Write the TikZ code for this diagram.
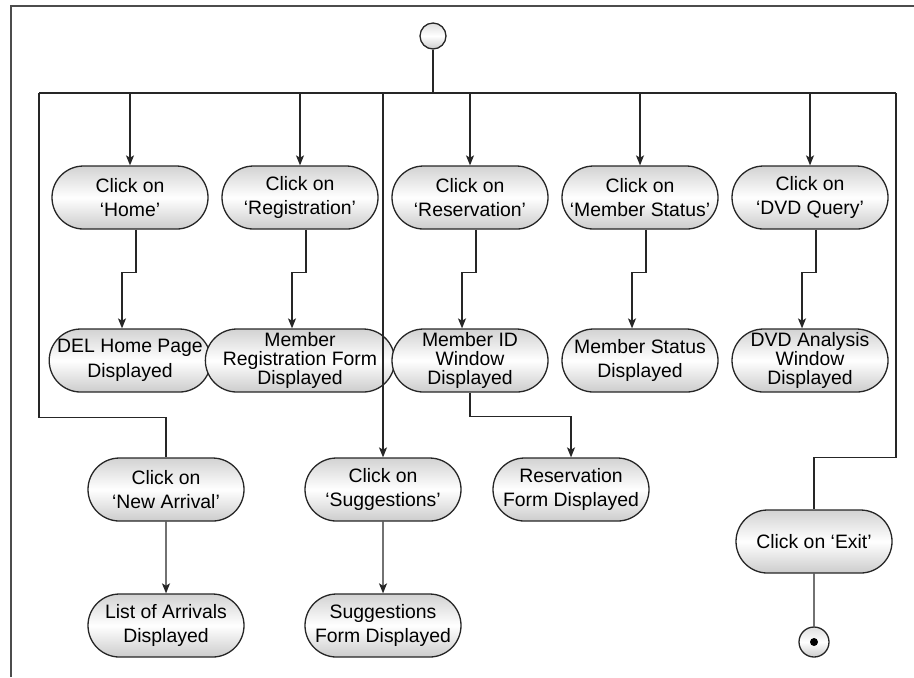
\documentclass[tikz,border=0pt]{standalone}
\usepackage{fontspec}
\setmainfont{Liberation Sans}
\usetikzlibrary{positioning,shapes.misc,arrows.meta}

\tikzset{
  activity/.style={rounded rectangle, draw=black!85, line width=0.65pt,
    top color=gray!35, bottom color=gray!40, middle color=white,
    minimum width=78pt, minimum height=31.5pt, inner sep=0pt,
    align=center, font=\fontsize{9.7}{12.3}\selectfont},
  tight/.style={font=\fontsize{9.7}{9.6}\selectfont},
  startdot/.style={circle, draw=black!85, line width=0.65pt,
    top color=gray!25, bottom color=gray!40, middle color=white,
    minimum size=13pt, inner sep=0pt},
  enddot/.style={circle, draw=black!85, line width=0.65pt,
    top color=gray!25, bottom color=gray!40, middle color=white,
    minimum size=15pt, inner sep=0pt,
    path picture={\fill[black] (path picture bounding box.center) circle (2pt);}},
  frame/.style={draw=black!70, line width=0.6pt}
}

\begin{document}
\begin{tikzpicture}[x=0.5pt,y=-0.5pt,node distance=85pt,on grid,
    line width=0.65pt,draw=black!85,
    >={Stealth[length=5pt,width=4pt,inset=1.2pt]}]
    \useasboundingbox (0,0) rectangle (914,677);
    \draw[frame] (11,677) -- (11,6) -- (914,6);

    \node[startdot] (start) at (433,36) {};
    \coordinate (barL) at (39,93);
    \coordinate (barR) at (896,93);

    % first row
    \node[activity] (home) at (130,197.5) {Click on\\‘Home’};
    \node[activity] (reg) [right=of home] {Click on\\‘Registration’};
    \node[activity] (resv) [right=of reg] {Click on\\‘Reservation’};
    \node[activity] (status) [right=of resv] {Click on\\‘Member Status’};
    \node[activity] (dvd) [right=of status] {Click on\\‘DVD Query’};

    % second row
    \node[activity] (homepage) [below=81.5pt of home] {DEL Home Page\\Displayed};
    \node[activity,tight] (regform) [below=81.5pt of reg] {Member\\Registration Form\\Displayed};
    \node[activity,tight] (memberid) [below=81.5pt of resv] {Member ID\\Window\\Displayed};
    \node[activity] (statusshown) [below=81.5pt of status] {Member Status\\Displayed};
    \node[activity,tight] (dvdwindow) [below=81.5pt of dvd] {DVD Analysis\\Window\\Displayed};

    % lower rows
    \node[activity] (newarr) at (166,489.5) {Click on\\‘New Arrival’};
    \node[activity] (sugg) at (383,489.5) {Click on\\‘Suggestions’};
    \node[activity] (resform) at (571,489.5) {Reservation\\Form Displayed};
    \node[activity] (exit) at (814,541.5) {Click on ‘Exit’};
    \node[activity] (arrivals) [below=68pt of newarr] {List of Arrivals\\Displayed};
    \node[activity] (suggform) [below=68pt of sugg] {Suggestions\\Form Displayed};
    \node[enddot] (end) [below=50.25pt of exit] {};

    % fork
    \draw (start) -- (start |- barL);
    \draw (barL) -- (barR);
    \foreach \n in {home,reg,resv,status,dvd}
      \draw[->] (barL -| \n.north) -- (\n.north);
    \foreach \a/\b in {home/homepage,reg/regform,resv/memberid,status/statusshown,dvd/dvdwindow}
      \draw[->] ([xshift=3pt]\a.south) -- ++(0,43) -| ([xshift=-4pt]\b.north);

    \draw (barL) |- ([yshift=20pt]newarr.north) -- (newarr.north);
    \draw[->] (barL -| sugg.north) -- (sugg.north);
    \draw[->] (memberid.south) -- ++(0,24) -| (resform.north);
    \draw[->] (newarr) -- (arrivals);
    \draw[->] (sugg) -- (suggform);
    \draw (barR) |- ([yshift=26pt]exit.north) -- (exit.north);
    \draw (exit) -- (end);
  \end{tikzpicture}
\end{document}
